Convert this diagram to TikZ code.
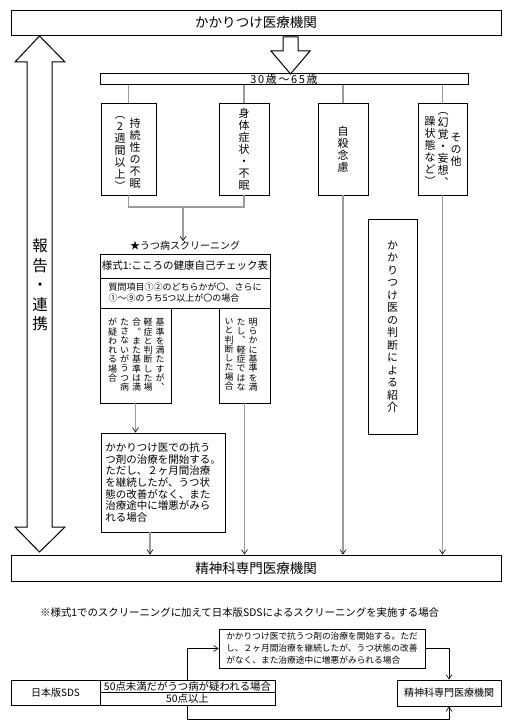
\documentclass[tikz,border=0pt]{standalone}
\usepackage{fontspec}
\setmainfont{Noto Sans CJK JP}
\newfontfamily\tatefont[RawFeature=+vert]{Noto Sans CJK JP}
\usetikzlibrary{arrows.meta}

\definecolor{lgray}{RGB}{155,155,155}

% one vertical column of characters, top to bottom
\makeatletter
\def\tate@run#1{\@tfor\tate@c:=#1\do{\hbox to 1em{\hss\tate@c\hss}}}
\newcommand{\tatecol}[1]{\vtop{\lineskiplimit=-\maxdimen\lineskip=0pt\expandafter\tate@run\expandafter{#1}}}
\makeatother

\tikzset{
	kbox/.style={draw, line width=0.9pt, inner sep=0pt},
	tcol/.style={inner sep=0pt, font=\tatefont\fontsize{11}{12}\selectfont},
	tcols/.style={tcol, font=\tatefont\fontsize{9}{9.3}\selectfont},
	gline/.style={draw=lgray, line width=1.2pt},
	gcon/.style={gline, -{Straight Barb[black, line width=0.6pt, length=4.5pt, width=6pt]}},
	bcon/.style={draw, line width=0.9pt, -{Straight Barb[line width=0.6pt, length=4.5pt, width=6pt]}},
	hollow/.style={draw, fill=white, line width=1pt},
}

\begin{document}
\begin{tikzpicture}[x=1pt, y=-1pt]
	\useasboundingbox (0,0) rectangle (511,727);
	% family doctor
	\node[kbox, minimum width=490pt, minimum height=25pt, font=\fontsize{13.5}{16}\selectfont] (top) at (256,22.5) {かかりつけ医療機関};
	% hollow arrows
	\draw[hollow] (283,37) -- (298,37) -- (298,51) -- (310,51) -- (290.5,74) -- (271,51) -- (283,51) -- cycle;
	\draw[hollow] (39.5,36) -- (65,62) -- (52,62) -- (52,527) -- (65,527) -- (39.5,552) -- (15,527) -- (27,527) -- (27,62) -- (15,62) -- cycle;
	\node[tcol, font=\tatefont\fontsize{15.5}{19.5}\selectfont] (renkei) at (40,285) {\tatecol{報告・連携}};
	% age band
	\node[kbox, minimum width=368pt, minimum height=10pt, font=\fontsize{11}{11}\selectfont\addfontfeature{LetterSpace=15}] (age) at (284,79) {30歳〜65歳};
	% four symptom boxes
	\node[kbox, minimum width=55pt, minimum height=92pt] (b1) at (128.5,149) {};
	\node[tcol] (b1a) at (135,153) {\tatecol{持続性の不眠}};
	\node[tcol] (b1b) at (120,153) {\tatecol{（2週間以上）}};
	\node[kbox, tcol, minimum width=50pt, minimum height=92pt] (b2) at (244,149) {\tatecol{身体症状・不眠}};
	\node[kbox, tcol, minimum width=50pt, minimum height=92pt] (b3) at (343,149) {\tatecol{自殺念慮}};
	\node[kbox, minimum width=49pt, minimum height=92pt] (b4) at (442.5,149) {};
	\node[tcol] (b4a) at (456,150) {\tatecol{その他}};
	\node[tcol] (b4b) at (443,149) {\tatecol{（幻覚・妄想、}};
	\node[tcol] (b4c) at (430,151) {\tatecol{躁状態など）}};
	\foreach \b in {b1,b2,b3,b4}
		\draw[gline] (\b.north |- age.south) -- (\b.north);
	% into screening
	\coordinate (join) at (183,207);
	\draw[gline] (b1.south) -- (b1.south |- join) -- (b2.south |- join) -- (b2.south);
	\node[inner sep=0pt, font=\fontsize{10}{12}\selectfont] (scr) at (185,246) {★うつ病スクリーニング};
	\draw[gcon] (join) -- (join |- scr.north);
	\node[kbox, minimum width=170pt, minimum height=24pt, font=\fontsize{10.5}{12}\selectfont] (f1) at (185,266) {様式1:こころの健康自己チェック表};
	\node[kbox, minimum width=170pt, minimum height=30pt, align=left, font=\fontsize{9}{11}\selectfont] (f2) at (185,293) {質問項目①②のどちらかが〇、さらに\\①〜⑨のうち5つ以上が〇の場合};
	% screening results
	\node[kbox, minimum width=71pt, minimum height=95pt] (s1) at (135.5,355.5) {};
	\node[kbox, minimum width=51pt, minimum height=95pt] (s2) at (244.5,355.5) {};
	\foreach \cx/\colt [count=\i] in {160/基準を満たすが、,148/軽症と判断した場,136.5/合。また基準は満,124.5/たさないがうつ病,112.5/が疑われる場合}
		\node[tcols, anchor=north] (s1c\i) at (\cx,318) {\tatecol{\colt}};
	\foreach \cx/\colt [count=\i] in {253/明らかに基準を満,241/たし、軽症ではな,229/いと判断した場合}
		\node[tcols, anchor=north] (s2c\i) at (\cx,318) {\tatecol{\colt}};
	% referral by judgement
	\node[kbox, tcol, minimum width=49pt, minimum height=215pt, font=\tatefont\fontsize{11}{12.5}\selectfont] (hb) at (392.5,326.5) {\tatecol{かかりつけ医の判断による紹介}};
	% antidepressant trial
	\node[kbox, minimum width=124pt, minimum height=99pt, align=left, font=\fontsize{10.5}{11.7}\selectfont] (kb) at (163,482.5) {かかりつけ医での抗う\\つ剤の治療を開始する。\\ただし、２ヶ月間治療\\を継続したが、うつ状\\態の改善がなく、また\\治療途中に増悪がみら\\れる場合};
	% psychiatry
	\node[kbox, minimum width=490pt, minimum height=26pt, font=\fontsize{13.5}{16}\selectfont] (psy) at (256,568) {精神科専門医療機関};
	\draw[gcon] (s1.south) -- (s1.south |- kb.north);
	\draw[gcon] ([xshift=-13pt]kb.south) -- ([xshift=-13pt]kb.south |- psy.north);
	\draw[gcon] (s2.south) -- (s2.south |- psy.north);
	\draw[gcon] (b3.south) -- (b3.south |- psy.north);
	\draw[gcon] (b4.south) -- (b4.south |- psy.north);
	% note
	\node[anchor=west, inner sep=0pt, font=\fontsize{10.4}{12}\selectfont] (note) at (40,613) {※様式1でのスクリーニングに加えて日本版SDSによるスクリーニングを実施する場合};
	% SDS flow
	\node[kbox, minimum width=89pt, minimum height=25pt, font=\fontsize{10}{12}\selectfont] (sds) at (55.5,692.5) {日本版SDS};
	\node[kbox, minimum width=175pt, minimum height=12.5pt, font=\fontsize{10.4}{12}\selectfont] (r1) at (187.5,686.5) {50点未満だがうつ病が疑われる場合};
	\node[kbox, minimum width=175pt, minimum height=12.5pt, font=\fontsize{10.4}{12}\selectfont] (r2) at (187.5,699) {50点以上};
	\node[kbox, minimum width=206pt, minimum height=39pt, align=left, font=\fontsize{8.7}{12}\selectfont] (kb2) at (322,648.5) {かかりつけ医で抗うつ剤の治療を開始する。ただ\\し、２ヶ月間治療を継続したが、うつ状態の改善\\がなく、また治療途中に増悪がみられる場合};
	\node[kbox, minimum width=104pt, minimum height=26pt, font=\fontsize{10}{12}\selectfont] (psy2) at (449,693) {精神科専門医療機関};
	\draw[bcon] (r1.north) |- (kb2.west);
	\draw[bcon] (kb2.east) -| (psy2.north);
	\draw[bcon] (r2.south) -- ++(0,14) -| (psy2.south);
\end{tikzpicture}
\end{document}
